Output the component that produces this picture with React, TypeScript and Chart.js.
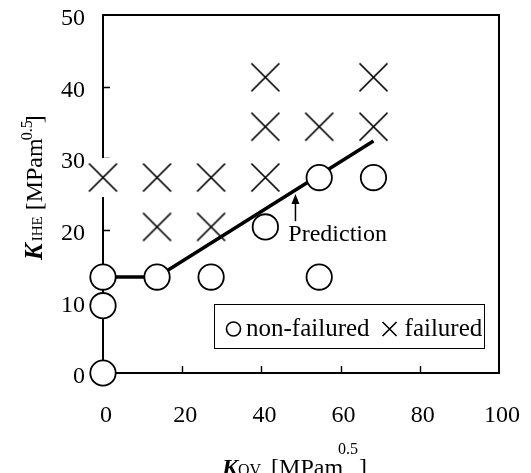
import React, { useEffect, useRef } from 'react';
import { Chart, registerables } from 'chart.js';

Chart.register(...registerables);

// ---- data ----
const nonFailuredX = [0, 0, 0, 13.65, 27.3, 41, 54.6, 54.6, 68.3];
const nonFailuredY = [0, 9.4, 13.4, 13.4, 13.4, 20.4, 13.4, 27.3, 27.3];
const failuredX = [0, 13.65, 13.65, 27.3, 27.3, 41, 41, 41, 54.6, 68.3, 68.3];
const failuredY = [27.3, 27.3, 20.4, 27.3, 20.4, 27.3, 34.4, 41.3, 34.4, 34.4, 41.3];
const predictionX = [0, 13.65, 68.3];
const predictionY = [13.4, 13.4, 32.4];
const xTickValues = [0, 20, 40, 60, 80, 100];
const yTickValues = [0, 10, 20, 30, 40, 50];
const innerXTicks = [20, 40, 60, 80];
const innerYTicks = [10, 20, 30, 40];

const SERIF = '"Liberation Serif", "Times New Roman", serif';

function makeCrossImage(): HTMLCanvasElement {
  const c = document.createElement('canvas');
  c.width = 39;
  c.height = 39;
  const g = c.getContext('2d')!;
  g.fillStyle = '#fff';
  g.fillRect(0, 0, 39, 39);
  g.strokeStyle = '#000';
  g.lineWidth = 1.7;
  g.beginPath();
  g.moveTo(5.5, 5.5);
  g.lineTo(33.5, 33.5);
  g.moveTo(33.5, 5.5);
  g.lineTo(5.5, 33.5);
  g.stroke();
  return c;
}

type Piece = { text: string; font: string; dy?: number; dx?: number };

function drawRich(ctx: CanvasRenderingContext2D, pieces: Piece[], x0: number, y0: number) {
  let x = x0;
  for (const p of pieces) {
    x += p.dx || 0;
    ctx.font = p.font;
    ctx.fillText(p.text, x, y0 + (p.dy || 0));
    x += ctx.measureText(p.text).width;
  }
}

const decorPlugin = {
  id: 'decor',
  beforeDatasetsDraw(chart: any) {
    const { ctx, chartArea: a, scales } = chart;
    ctx.save();
    ctx.strokeStyle = '#000';
    ctx.lineWidth = 1.4;
    ctx.beginPath();
    for (const v of innerXTicks) {
      const px = Math.round(scales.x.getPixelForValue(v)) + 0.5;
      ctx.moveTo(px, a.bottom);
      ctx.lineTo(px, a.bottom - 7);
    }
    for (const v of innerYTicks) {
      const py = Math.round(scales.y.getPixelForValue(v)) + 0.5;
      ctx.moveTo(a.left, py);
      ctx.lineTo(a.left + 7, py);
    }
    ctx.stroke();
    ctx.lineWidth = 2;
    ctx.strokeRect(a.left, a.top, a.right - a.left, a.bottom - a.top);
    ctx.restore();
  },
  afterDatasetsDraw(chart: any) {
    const { ctx, scales } = chart;
    ctx.save();
    ctx.fillStyle = '#000';
    ctx.strokeStyle = '#000';

    // Prediction annotation
    const ax = scales.x.getPixelForValue(48.6);
    const tipY = scales.y.getPixelForValue(25.0);
    const tailY = scales.y.getPixelForValue(21.2);
    ctx.lineWidth = 1.5;
    ctx.beginPath();
    ctx.moveTo(ax, tailY);
    ctx.lineTo(ax, tipY + 6);
    ctx.stroke();
    ctx.beginPath();
    ctx.moveTo(ax, tipY);
    ctx.lineTo(ax - 4, tipY + 10);
    ctx.lineTo(ax + 4, tipY + 10);
    ctx.closePath();
    ctx.fill();
    ctx.font = '24px ' + SERIF;
    ctx.textBaseline = 'alphabetic';
    ctx.textAlign = 'left';
    ctx.fillText('Prediction', scales.x.getPixelForValue(46.8), scales.y.getPixelForValue(18.5));

    // Legend box
    const lx = 214, ly = 304, lw = 270, lh = 44;
    ctx.fillStyle = '#fff';
    ctx.fillRect(lx, ly, lw, lh);
    ctx.fillStyle = '#000';
    ctx.lineWidth = 1;
    ctx.strokeRect(lx + 0.5, ly + 0.5, lw, lh);
    const cy = 329;
    ctx.lineWidth = 1.6;
    ctx.beginPath();
    ctx.arc(233.5, cy, 7, 0, Math.PI * 2);
    ctx.stroke();
    ctx.font = '25px ' + SERIF;
    ctx.fillText('non-failured', 246, 336);
    const w1 = ctx.measureText('non-failured').width;
    const cxX = 246 + w1 + 20;
    ctx.beginPath();
    ctx.moveTo(cxX - 7, cy - 7);
    ctx.lineTo(cxX + 7, cy + 7);
    ctx.moveTo(cxX + 7, cy - 7);
    ctx.lineTo(cxX - 7, cy + 7);
    ctx.stroke();
    ctx.fillText('failured', cxX + 15, 336);

    // Y axis title (rotated)
    ctx.save();
    ctx.translate(41.5, 260);
    ctx.rotate(-Math.PI / 2);
    drawRich(ctx, [
      { text: 'K', font: 'italic bold 25px ' + SERIF },
      { text: 'IHE', font: '15px ' + SERIF, dx: 2 },
      { text: '[MPam', font: '24px ' + SERIF, dx: 6 },
      { text: '0.5', font: '16px ' + SERIF, dy: -10, dx: -2 },
      { text: ']', font: '24px ' + SERIF, dx: -3 },
    ], 0, 0);
    ctx.restore();

    // X axis title
    drawRich(ctx, [
      { text: 'K', font: 'italic bold 24px ' + SERIF },
      { text: 'OV', font: '16px ' + SERIF, dx: 0 },
      { text: '[MPam', font: '24px ' + SERIF, dx: 10 },
      { text: '0.5', font: '16px ' + SERIF, dy: -21, dx: -5 },
      { text: ']', font: '24px ' + SERIF, dx: 1 },
    ], 222, 475);
    ctx.restore();
  },
};

export default function App() {
  const ref = useRef<HTMLCanvasElement | null>(null);
  useEffect(() => {
    const canvas = ref.current!;
    const crossImg = makeCrossImage();
    const tickFont = { family: SERIF, size: 24 };
    const chart = new Chart(canvas, {
      type: 'scatter',
      data: {
        datasets: [
          {
            label: 'non-failured',
            data: nonFailuredX.map((x, i) => ({ x, y: nonFailuredY[i] })),
            pointStyle: 'circle',
            pointRadius: 12.7,
            pointBorderWidth: 1.8,
            pointBackgroundColor: '#fff',
            pointBorderColor: '#000',
            clip: false,
            order: 0,
          },
          {
            label: 'Prediction',
            data: predictionX.map((x, i) => ({ x, y: predictionY[i] })),
            showLine: true,
            borderColor: '#000',
            borderWidth: 3.5,
            pointRadius: 0,
            clip: false,
            order: 1,
          },
          {
            label: 'failured',
            data: failuredX.map((x, i) => ({ x, y: failuredY[i] })),
            pointStyle: crossImg,
            pointRadius: 14,
            clip: false,
            order: 2,
          },
        ] as any,
      },
      options: {
        animation: false,
        responsive: false,
        events: [],
        layout: { padding: { left: 0, top: 11, right: 32, bottom: 0 } },
        plugins: { legend: { display: false }, tooltip: { enabled: false } },
        scales: {
          x: {
            type: 'linear',
            min: 0,
            max: 100,
            afterBuildTicks: (s: any) => {
              s.ticks = xTickValues.map((v) => ({ value: v }));
            },
            afterFit: (s: any) => {
              s.height = 100;
              s.paddingLeft = 0;
              s.paddingRight = 0;
            },
            grid: { display: false, drawTicks: false },
            border: { display: false },
            ticks: { font: tickFont, color: '#000', padding: 28, labelOffset: 3, maxRotation: 0, autoSkip: false },
          },
          y: {
            type: 'linear',
            min: 0,
            max: 50,
            afterBuildTicks: (s: any) => {
              s.ticks = yTickValues.map((v) => ({ value: v }));
            },
            afterFit: (s: any) => {
              s.width = 103;
              s.paddingTop = 0;
              s.paddingBottom = 0;
            },
            grid: { display: false, drawTicks: false },
            border: { display: false },
            ticks: { font: tickFont, color: '#000', padding: 18, labelOffset: 4, autoSkip: false },
          },
        },
      },
      plugins: [decorPlugin],
    } as any);
    return () => chart.destroy();
  }, []);
  return (
    <div style={{ position: 'fixed', left: 0, top: 0, width: 531, height: 473, background: '#fff' }}>
      <canvas ref={ref} width={531} height={473} style={{ display: 'block' }} />
    </div>
  );
}
